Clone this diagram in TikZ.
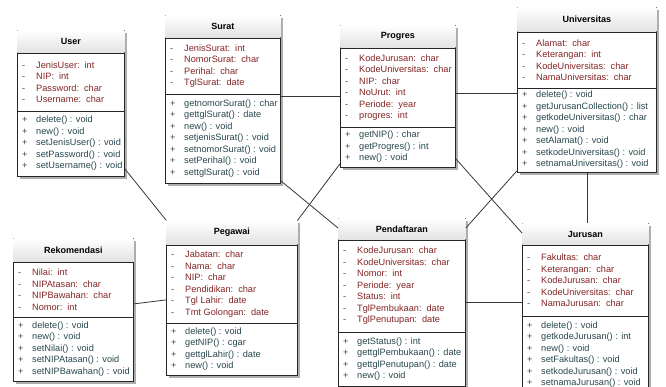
\documentclass[tikz,border=0pt]{standalone}
\usepackage{fontspec}
\setmainfont{Liberation Sans}
\usetikzlibrary{shadows}
\definecolor{attrred}{RGB}{132,36,36}
\definecolor{methteal}{RGB}{40,72,78}
\definecolor{signgray}{RGB}{70,70,70}
\definecolor{titlegray}{RGB}{226,226,226}
\definecolor{linegray}{RGB}{55,55,55}
\tikzset{
  classbox/.style={draw=black!85, line width=0.8pt, fill=white, inner sep=0pt,
    drop shadow={shadow xshift=2.5pt, shadow yshift=-2.5pt, fill=black!45, opacity=0.7}},
  sepline/.style={draw=black!85, line width=0.7pt},
  titletext/.style={font=\fontsize{9}{11}\selectfont\bfseries, inner sep=0pt},
  listtext/.style={font=\fontsize{9.2}{11.5}\selectfont, inner sep=0pt, anchor=west, align=left},
  assoc/.style={draw=linegray, line width=0.8pt},
}
\newcommand\cc{:\hspace{5pt}}
\newcommand\ar[1]{\makebox[14pt][l]{\textcolor{signgray}{-}}\textcolor{attrred}{#1}}
\newcommand\mr[1]{\makebox[14pt][l]{\textcolor{signgray}{+}}\textcolor{methteal}{#1}}
% #1 id, #2 x, #3 y, #4 width, #5 title h, #6 attr h, #7 method h, #8 title
\newcommand\umlbox[8]{%
  \node[classbox, minimum width=#4pt, minimum height={(#5+#6+#7)*1pt}, anchor=north west] (#1) at (#2pt,-#3pt) {};
  \shade[top color=white, bottom color=titlegray] ([xshift=0.4pt,yshift=-0.4pt]#1.north west) rectangle ([xshift=-0.4pt,yshift=-#5pt]#1.north east);
  \draw[sepline] ([yshift=-#5pt]#1.north west) -- ([yshift=-#5pt]#1.north east);
  \draw[sepline] ([yshift={-(#5+#6)*1pt}]#1.north west) -- ([yshift={-(#5+#6)*1pt}]#1.north east);
  \node[titletext] (#1-t) at ([yshift={-#5*0.5pt}]#1.north) {#8};
  \coordinate (#1-a) at ([xshift=5pt,yshift={-(#5+#6*0.5)*1pt}]#1.north west);
  \coordinate (#1-m) at ([xshift=5pt,yshift={-(#5+#6+#7*0.5)*1pt}]#1.north west);
}
\newcommand\umlattrs[2]{\node[listtext] (#1-at) at (#1-a) {#2};}
\newcommand\umlmeths[2]{\node[listtext] (#1-mt) at (#1-m) {#2};}
\begin{document}
\begin{tikzpicture}[x=1pt,y=1pt]
\useasboundingbox (0,0) rectangle (666,-387);
\fill[white] (0,0) rectangle (666,-387);

% User
\umlbox{user}{17}{30}{107}{23}{58}{65}{User}
\umlattrs{user}{\ar{JenisUser\cc int}\\ \ar{NIP\cc int}\\ \ar{Password\cc char}\\ \ar{Username\cc char}}
\umlmeths{user}{\mr{delete() : void}\\ \mr{new() : void}\\ \mr{setJenisUser() : void}\\ \mr{setPassword() : void}\\ \mr{setUsername() : void}}

% Surat
\umlbox{surat}{165}{15}{115}{23}{56}{89}{Surat}
\umlattrs{surat}{\ar{JenisSurat\cc int}\\ \ar{NomorSurat\cc char}\\ \ar{Perihal\cc char}\\ \ar{TglSurat\cc date}}
\umlmeths{surat}{\mr{getnomorSurat() : char}\\ \mr{gettglSurat() : date}\\ \mr{new() : void}\\ \mr{setjenisSurat() : void}\\ \mr{setnomorSurat() : void}\\ \mr{setPerihal() : void}\\ \mr{settglSurat() : void}}

% Progres
\umlbox{progres}{340}{25}{115}{23}{79}{40}{Progres}
\umlattrs{progres}{\ar{KodeJurusan\cc char}\\ \ar{KodeUniversitas\cc char}\\ \ar{NIP\cc char}\\ \ar{NoUrut\cc int}\\ \ar{Periode\cc year}\\ \ar{progres\cc int}}
\umlmeths{progres}{\mr{getNIP() : char}\\ \mr{getProgres() : int}\\ \mr{new() : void}}

% Universitas
\umlbox{univ}{517}{7}{139}{25}{56}{84}{Universitas}
\umlattrs{univ}{\ar{Alamat\cc char}\\ \ar{Keterangan\cc int}\\ \ar{KodeUniversitas\cc char}\\ \ar{NamaUniversitas\cc char}}
\umlmeths{univ}{\mr{delete() : void}\\ \mr{getJurusanCollection() : list}\\ \mr{getkodeUniversitas() : char}\\ \mr{new() : void}\\ \mr{setAlamat() : void}\\ \mr{setkodeUniversitas() : void}\\ \mr{setnamaUniversitas() : void}}

% Rekomendasi
\umlbox{rekom}{13}{238}{120}{24}{55}{64}{Rekomendasi}
\umlattrs{rekom}{\ar{Nilai\cc int}\\ \ar{NIPAtasan\cc char}\\ \ar{NIPBawahan\cc char}\\ \ar{Nomor\cc int}}
\umlmeths{rekom}{\mr{delete() : void}\\ \mr{new() : void}\\ \mr{setNilai() : void}\\ \mr{setNIPAtasan() : void}\\ \mr{setNIPBawahan() : void}}

% Pegawai
\umlbox{pegawai}{166}{220}{131}{25}{78}{52}{Pegawai}
\umlattrs{pegawai}{\ar{Jabatan\cc char}\\ \ar{Nama\cc char}\\ \ar{NIP\cc char}\\ \ar{Pendidikan\cc char}\\ \ar{Tgl Lahir\cc date}\\ \ar{Tmt Golongan\cc date}}
\umlmeths{pegawai}{\mr{delete() : void}\\ \mr{getNIP() : cgar}\\ \mr{gettglLahir() : date}\\ \mr{new() : void}}

% Pendaftaran
\umlbox{daftar}{338}{218}{127}{22}{92}{54}{Pendaftaran}
\umlattrs{daftar}{\ar{KodeJurusan\cc char}\\ \ar{KodeUniversitas\cc char}\\ \ar{Nomor\cc int}\\ \ar{Periode\cc year}\\ \ar{Status\cc int}\\ \ar{TglPembukaan\cc date}\\ \ar{TglPenutupan\cc date}}
\umlmeths{daftar}{\mr{getStatus() : int}\\ \mr{gettglPembukaan() : date}\\ \mr{gettglPenutupan() : date}\\ \mr{new() : void}}

% Jurusan
\umlbox{jurusan}{522}{223}{126}{22}{71}{77}{Jurusan}
\umlattrs{jurusan}{\ar{Fakultas\cc char}\\ \ar{Keterangan\cc char}\\ \ar{KodeJurusan\cc char}\\ \ar{KodeUniversitas\cc char}\\ \ar{NamaJurusan\cc char}}
\umlmeths{jurusan}{\mr{delete() : void}\\ \mr{getkodeJurusan() : int}\\ \mr{new() : void}\\ \mr{setFakultas() : void}\\ \mr{setkodeJurusan() : void}\\ \mr{setnamaJurusan() : void}}

% Associations
\draw[assoc] ([yshift=8pt]user.south east) -- (pegawai.north west);
\draw[assoc] (progres.west -| surat.east) -- (progres.west);
\draw[assoc] ([yshift=3pt]surat.south east) -- ([yshift=-10pt]daftar.north west);
\draw[assoc] (pegawai.north east) -- ([yshift=4pt]progres.south west);
\draw[assoc] ([yshift=3pt]progres.east) -- ([yshift=3pt]progres.east -| univ.west);
\draw[assoc] ([yshift=9pt]progres.south east) -- ([yshift=-10pt]jurusan.north west);
\draw[assoc] ([yshift=2pt]univ.south west) -- ([yshift=-10pt]daftar.north east);
\draw[assoc] (univ.south) -- (univ.south |- jurusan.north);
\draw[assoc] (daftar.east) -- (daftar.east -| jurusan.west);
\draw[assoc] ([yshift=6pt]rekom.east) -- ([yshift=-2pt]pegawai.west);
\end{tikzpicture}
\end{document}
